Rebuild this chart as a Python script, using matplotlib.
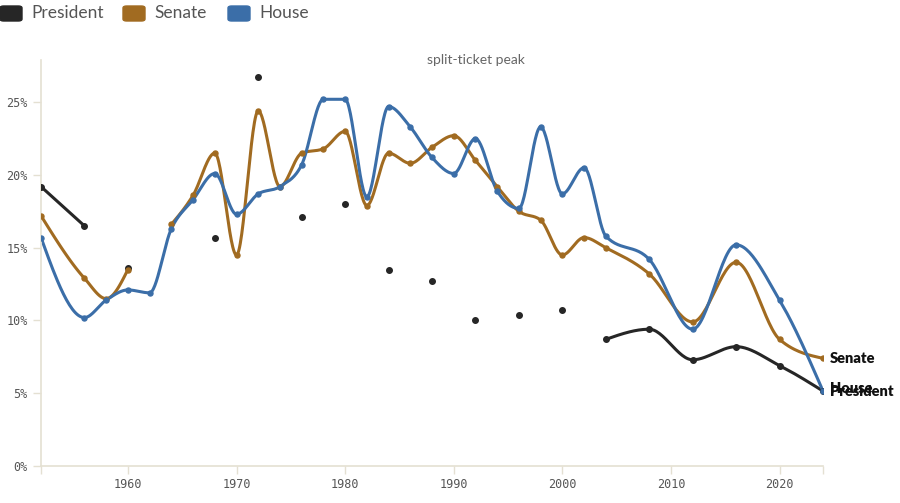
import numpy as np
import matplotlib
matplotlib.use("Agg")
import matplotlib.pyplot as plt
from matplotlib.patches import FancyBboxPatch

nan = np.nan

# election years in the data (1954 absent, every 4 years after 2004)
years = [1952, 1956, 1958, 1960, 1962, 1964, 1966, 1968, 1970, 1972, 1974,
         1976, 1978, 1980, 1982, 1984, 1986, 1988, 1990, 1992, 1994, 1996,
         1998, 2000, 2002, 2004, 2008, 2012, 2016, 2020, 2024]

president = [19.2, 16.5, nan, 13.6, nan, nan, nan, 15.7, nan, 26.7, nan,
             17.1, nan, 18.0, nan, 13.5, nan, 12.7, nan, 10.0, nan, 10.4,
             nan, 10.7, nan, 8.7, 9.4, 7.3, 8.2, 6.9, 5.15]

senate = [17.2, 12.9, 11.5, 13.5, nan, 16.6, 18.6, 21.5, 14.5, 24.4, 19.2,
          21.5, 21.8, 23.0, 17.9, 21.5, 20.8, 21.9, 22.7, 21.0, 19.2, 17.5,
          16.9, 14.5, 15.7, 15.0, 13.2, 9.9, 14.0, 8.7, 7.4]

house = [15.7, 10.2, 11.4, 12.1, 11.9, 16.3, 18.3, 20.1, 17.3, 18.7, 19.2,
         20.7, 25.2, 25.2, 18.5, 24.7, 23.3, 21.2, 20.1, 22.5, 18.9, 17.7,
         23.3, 18.7, 20.5, 15.8, 14.2, 9.4, 15.2, 11.4, 5.15]

series = ["President", "Senate", "House"]
colors = {"President": "#262626", "Senate": "#a16b21", "House": "#3b6ea8"}
yticks = [0, 5, 10, 15, 20, 25]
xticks = [1960, 1970, 1980, 1990, 2000, 2010, 2020]


def monotone(x, y, n=30):
    # same shape as d3.curveMonotoneX
    x = np.asarray(x, float); y = np.asarray(y, float)
    if len(x) < 2:
        return x, y
    h = np.diff(x); s = np.diff(y) / h
    t = np.zeros(len(x))
    for i in range(1, len(x) - 1):
        p = (s[i-1] * h[i] + s[i] * h[i-1]) / (h[i-1] + h[i])
        t[i] = (np.sign(s[i-1]) + np.sign(s[i])) * min(abs(s[i-1]), abs(s[i]), 0.5 * abs(p))
    if len(x) == 2:
        t[0] = t[1] = s[0]
    else:
        t[0] = (3 * s[0] - t[1]) / 2
        t[-1] = (3 * s[-1] - t[-2]) / 2
    xs, ys = [], []
    u = np.linspace(0, 1, n)
    for i in range(len(x) - 1):
        dx = h[i] / 3
        px = [x[i], x[i] + dx, x[i+1] - dx, x[i+1]]
        py = [y[i], y[i] + dx * t[i], y[i+1] - dx * t[i+1], y[i+1]]
        b = [(1-u)**3, 3*(1-u)**2*u, 3*(1-u)*u**2, u**3]
        xs.append(sum(bb * pp for bb, pp in zip(b, px)))
        ys.append(sum(bb * pp for bb, pp in zip(b, py)))
    return np.concatenate(xs), np.concatenate(ys)


def runs(x, y):
    out, cx, cy = [], [], []
    for a, b in zip(x, y):
        if np.isnan(b):
            if cx:
                out.append((cx, cy)); cx, cy = [], []
        else:
            cx.append(a); cy.append(b)
    if cx:
        out.append((cx, cy))
    return out


fig = plt.figure(figsize=(9, 5.03), dpi=100)
ax = fig.add_axes([41/900, 37/503, 782/900, 406/503])

data = {"President": president, "Senate": senate, "House": house}
for name in series:
    c = colors[name]
    for rx, ry in runs(years, data[name]):
        if len(rx) > 1:
            sx, sy = monotone(rx, ry)
            ax.plot(sx, sy, color=c, lw=2.2, solid_capstyle="round", zorder=2)
        ax.plot(rx, ry, "o", color=c, ms=4 if name == "President" else 3.6, zorder=3)

# end labels (House and President sit on top of each other, as in the source)
lab = dict(textcoords="offset points", va="center", fontsize=10.5,
           fontweight="heavy", family="Lato", color="#111111")
ax.annotate("Senate", (years[-1], senate[-1]), xytext=(5, 0), **lab)
ax.annotate("House", (years[-1], house[-1]), xytext=(5, 1.5), **lab)
ax.annotate("President", (years[-1], president[-1]), xytext=(5, 0), **lab)

ax.text(1992, 27.9, "split-ticket peak", ha="center", va="center", fontsize=10,
        family="Lato", color="#666666")

ax.set_xlim(1952, 2024)
ax.set_ylim(0, 27.9)
ax.set_yticks(yticks)
ax.set_yticklabels([f"{v}%" for v in yticks])
ax.set_xticks([1952] + xticks + [2024])
ax.set_xticklabels([""] + [str(v) for v in xticks] + [""])
for sp in ["top", "right"]:
    ax.spines[sp].set_visible(False)
for sp in ["left", "bottom"]:
    ax.spines[sp].set_color("#e4e0d2")
    ax.spines[sp].set_linewidth(1.2)
ax.tick_params(colors="#e4e0d2", labelcolor="#555555", labelsize=8.5, length=6, width=1)
ax.tick_params(axis="x", pad=3)
for t in ax.get_xticklabels() + ax.get_yticklabels():
    t.set_family("DejaVu Sans Mono")
ax.set_facecolor("none")

# legend at the top-left corner
lx = [0, 123, 228]
for name, x0 in zip(series, lx):
    box = FancyBboxPatch((x0 / 900, 1 - 21 / 503), 22 / 900, 15 / 503,
                         boxstyle="round,pad=0,rounding_size=0.004",
                         transform=fig.transFigure, color=colors[name])
    fig.patches.append(box)
    fig.text((x0 + 31) / 900, 1 - 13 / 503, name, va="center", ha="left",
             fontsize=12.5, family="Lato", color="#555555")

fig.savefig("out.png", dpi=100)
